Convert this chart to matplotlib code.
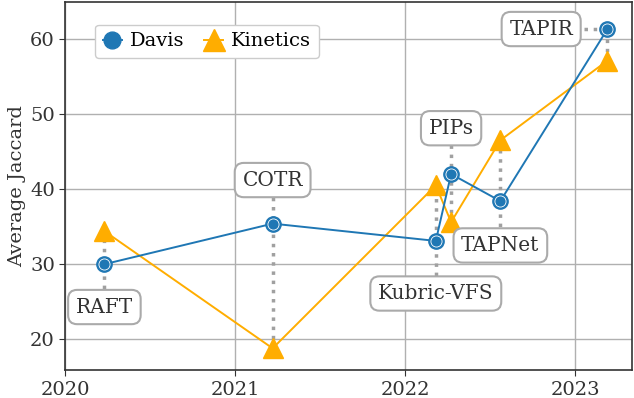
import matplotlib
matplotlib.use("Agg")
import matplotlib.pyplot as plt

# dates (decimal year) and scores
methods = ["RAFT", "COTR", "Kubric-VFS", "PIPs", "TAPNet", "TAPIR"]
dates = [2020.23, 2021.22, 2022.18, 2022.27, 2022.56, 2023.19]
davis = [30.0, 35.4, 33.1, 42.0, 38.4, 61.3]
kinetics = [34.4, 18.8, 40.5, 35.6, 46.5, 57.1]

# label anchors (x, y) in data coords
label_x = [2020.23, 2021.22, 2022.18, 2022.27, 2022.56, 2022.80]
label_y = [24.3, 41.2, 26.1, 48.1, 32.5, 61.3]

plt.rcParams["font.family"] = "DejaVu Serif"
plt.rcParams["font.size"] = 14

fig, ax = plt.subplots(figsize=(6.34, 3.98), dpi=100)
fig.subplots_adjust(left=0.103, right=0.997, top=0.995, bottom=0.07)

blue = "#1f77b4"
amber = "#ffad00"
dotc = "#a0a0a0"

# dotted connectors from labels to points
for name, x, d, k, lx, ly in zip(methods, dates, davis, kinetics, label_x, label_y):
    if name == "TAPIR":
        ax.plot([lx + 0.25, x], [ly, ly], ls=":", lw=2.5, color=dotc, zorder=1.5)
        ax.plot([x, x], [min(d, k), max(d, k)], ls=":", lw=2.5, color=dotc, zorder=1.5)
    else:
        lo = min(d, k, ly)
        hi = max(d, k, ly)
        ax.plot([x, x], [lo, hi], ls=":", lw=2.5, color=dotc, zorder=1.5)

ax.plot(dates, davis, color=blue, lw=1.4, marker="o", ms=11, mec=blue, label="Davis", zorder=3)
ax.plot(dates, davis, ls="none", marker="o", ms=8, mfc="none", mec="white", mew=0.6,
        zorder=3.1)
ax.plot(dates, kinetics, color=amber, lw=1.4, marker="^", ms=14, mec=amber, label="Kinetics",
        zorder=2.5)

for name, lx, ly in zip(methods, label_x, label_y):
    ax.text(lx, ly, name, ha="center", va="center", color="#333333", zorder=4, fontsize=14.5,
            bbox=dict(boxstyle="round,pad=0.38,rounding_size=0.45", fc="white", ec="#aaaaaa",
                      lw=1.5))

ax.set_xlim(2020.0, 2023.335)
ax.set_ylim(15.9, 64.9)
ax.set_xticks([2020, 2021, 2022, 2023])
ax.set_yticks([20, 30, 40, 50, 60])
ax.grid(True, color="#b0b0b0", lw=1.0)
ax.set_axisbelow(True)
ax.set_ylabel("Average Jaccard", color="#333333", labelpad=3)
ax.tick_params(colors="#333333", length=4)
for s in ax.spines.values():
    s.set_color("#333333")
    s.set_linewidth(1.2)

ax.legend(loc="upper left", bbox_to_anchor=(0.035, 0.965), ncol=2, handlelength=1.0,
          columnspacing=1.0, handletextpad=0.4, framealpha=1, edgecolor="#cccccc",
          fancybox=True, markerscale=1.1)

fig.savefig("out.png", dpi=100)
